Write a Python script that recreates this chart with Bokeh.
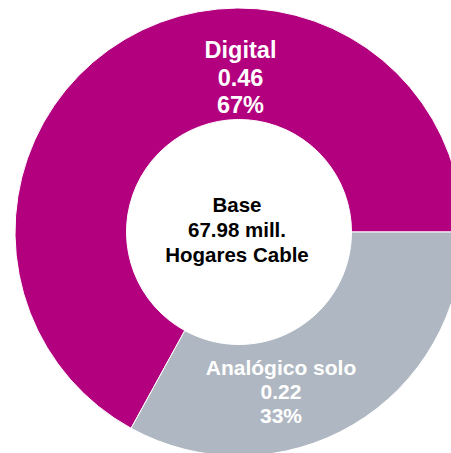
from bokeh.plotting import figure
from bokeh.models import Range1d, ColumnDataSource
from bokeh.core.properties import value
from bokeh.embed import file_html
from bokeh.resources import INLINE
import math

# ---- data ----
categories = ["Digital", "Analógico solo"]
values = [0.46, 0.22]
percents = [67, 33]
colors = ["#B3007E", "#AFB8C2"]
center_lines = ["Base", "67.98 mill.", "Hogares Cable"]

W, H = 451, 453
CX, CY = 238.5, 231.5          # donut centre in figure pixels (from left, from top)
R_OUT, R_IN = 224, 112.5

p = figure(width=W, height=H, output_backend="svg", toolbar_location=None,
           x_range=Range1d(-CX, W - CX), y_range=Range1d(CY - H, CY),
           min_border=0, outline_line_color=None)
p.axis.visible = False
p.grid.visible = False
p.background_fill_color = "white"
p.border_fill_color = "white"

# angles: analog slice runs clockwise from 3 o'clock, digital fills the rest
shares = [pc / sum(percents) for pc in percents]
a_analog = shares[1] * 2 * math.pi
starts = [0.0, -a_analog]
ends = [2 * math.pi - a_analog, 0.0]

src = ColumnDataSource(dict(cat=categories, val=values, pct=percents,
                            start=starts, end=ends, color=colors))
p.annular_wedge(x=0, y=0, inner_radius=R_IN, outer_radius=R_OUT,
                start_angle="start", end_angle="end", fill_color="color",
                line_color="white", line_width=1, source=src,
                inner_radius_units="screen", outer_radius_units="screen")

font = value("Liberation Sans")

def label_block(lines, x, y0, step, size, color):
    ys = [y0 - i * step for i in range(len(lines))]
    p.text(x=[x] * len(lines), y=ys, text=lines, text_font=font,
           text_font_style="bold", text_font_size=size, text_color=color,
           text_align="center", text_baseline="middle")

label_block([categories[0], f"{values[0]:.2f}", f"{percents[0]}%"],
            1.5, 182.5, 27.5, "23.5px", "white")
label_block([categories[1], f"{values[1]:.2f}", f"{percents[1]}%"],
            42, -135.5, 24.2, "21px", "white")
label_block(center_lines, -2, 27.5, 25, "20.5px", "black")

open("out.html", "w").write(file_html(p, INLINE))
